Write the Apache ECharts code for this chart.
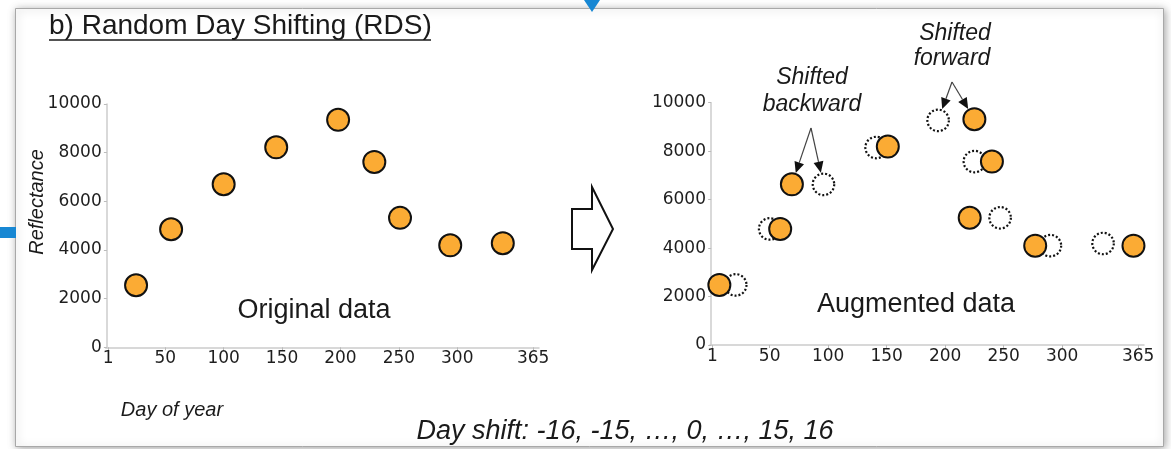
<!DOCTYPE html>
<html>
<head>
<meta charset="utf-8">
<script src="https://cdn.jsdelivr.net/npm/echarts@6/dist/echarts.min.js"></script>
<style>
html,body{margin:0;padding:0;background:#fff;}
#chart{width:1171px;height:449px;}
</style>
</head>
<body>
<div id="chart"></div>
<script>
// ---- data ----
const dayTicks = [1, 50, 100, 150, 200, 250, 300, 365];
const origDays = [25, 55, 100, 145, 198, 229, 251, 294, 339];
const origValues = [2550, 4850, 6700, 8220, 9350, 7620, 5320, 4190, 4280];
const shiftedDays = [7, 59, 69, 151, 225, 240, 221, 277, 361];
const shiftedValues = [2480, 4790, 6630, 8190, 9320, 7570, 5250, 4100, 4100];
const ghostDays = [21, 50, 96, 141, 194, 225, 247, 290, 335];
const ghostValues = [2480, 4790, 6630, 8150, 9270, 7570, 5250, 4100, 4190];

const titleText = 'b) Random Day Shifting (RDS)';
const yName = 'Reflectance';
const xName = 'Day of year';
const leftLabel = 'Original data';
const rightLabel = 'Augmented data';
const shiftText = 'Day shift: -16, -15, \u2026, 0, \u2026, 15, 16';

const ORANGE = '#fbab34';
const SANS = '"Liberation Sans", Arial, sans-serif';
const AXF = 'DejaVu Sans';

function pairs(xs, ys) { return xs.map((x, i) => [x, ys[i]]); }

function xAxisCfg(gi) {
  return {
    type: 'value', gridIndex: gi, min: -1, max: 370,
    axisLine: { show: true, lineStyle: { color: '#cccccc', width: 1.5 } },
    axisTick: { show: true, length: 3, customValues: dayTicks, lineStyle: { color: '#bbbbbb' } },
    axisLabel: { customValues: dayTicks, margin: 3, color: '#1e1e1e', fontFamily: AXF, fontSize: 17,
      formatter: v => String(v) },
    splitLine: { show: false }
  };
}
function yAxisCfg(gi) {
  return {
    type: 'value', gridIndex: gi, min: 0, max: 10000, interval: 2000,
    axisLine: { show: true, lineStyle: { color: '#cccccc', width: 1.5 } },
    axisTick: { show: true, length: 3, lineStyle: { color: '#bbbbbb' } },
    axisLabel: { margin: 4, color: '#1e1e1e', fontFamily: AXF, fontSize: 17,
      formatter: v => String(v) },
    splitLine: { show: false }
  };
}

const chart = echarts.init(document.getElementById('chart'), null, { renderer: 'canvas' });

const option = {
  animation: false,
  backgroundColor: '#ffffff',
  grid: [
    { left: 105.7, top: 104, width: 433.3, height: 243.3, outerBoundsMode: 'none' },
    { left: 710, top: 102.7, width: 434, height: 242.3, outerBoundsMode: 'none' }
  ],
  xAxis: [xAxisCfg(0), xAxisCfg(1)],
  yAxis: [yAxisCfg(0), yAxisCfg(1)],
  series: [
    {
      type: 'scatter', xAxisIndex: 0, yAxisIndex: 0, z: 3,
      data: pairs(origDays, origValues), symbolSize: 22,
      itemStyle: { color: ORANGE, borderColor: '#111', borderWidth: 2, opacity: 1 },
      emphasis: { disabled: true }
    },
    {
      type: 'scatter', xAxisIndex: 1, yAxisIndex: 1, z: 2,
      data: pairs(ghostDays, ghostValues), symbolSize: 21.5,
      itemStyle: { color: 'rgba(0,0,0,0)', borderColor: '#111', borderWidth: 2.2, borderType: [2, 2], opacity: 1 },
      emphasis: { disabled: true }
    },
    {
      type: 'scatter', xAxisIndex: 1, yAxisIndex: 1, z: 3,
      data: pairs(shiftedDays, shiftedValues), symbolSize: 22,
      itemStyle: { color: ORANGE, borderColor: '#111', borderWidth: 2, opacity: 1 },
      emphasis: { disabled: true }
    }
  ]
};
chart.setOption(option);

// ---- annotation graphics ----
function arrowEls(apex, center, id) {
  const dx = center[0] - apex[0], dy = center[1] - apex[1];
  const len = Math.sqrt(dx * dx + dy * dy);
  const ux = dx / len, uy = dy / len;
  const tip = [center[0] - ux * 12, center[1] - uy * 12];
  const L = 11, W = 5;
  const bx = tip[0] - ux * L, by = tip[1] - uy * L;
  return [
    { type: 'line', id: id + 'l', z: 5, shape: { x1: apex[0], y1: apex[1], x2: bx, y2: by },
      style: { stroke: '#444', lineWidth: 1.2 } },
    { type: 'polygon', id: id + 'h', z: 5,
      shape: { points: [tip, [bx - uy * W, by + ux * W], [bx + uy * W, by - ux * W]] },
      style: { fill: '#111' } }
  ];
}
const px = (d, v) => chart.convertToPixel({ xAxisIndex: 1, yAxisIndex: 1 }, [d, v]);
const backApex = [811, 128];
const fwdApex = [952, 82];

const txt = (id, x, y, text, size, extra) => ({
  type: 'text', id: id, x: x, y: y, z: 6,
  style: Object.assign({ text: text, fill: '#1a1a1a', font: size + 'px ' + SANS, align: 'center', verticalAlign: 'middle' }, extra || {})
});

const graphics = [
  // frame
  { type: 'rect', id: 'frame', z: -10, shape: { x: 15.5, y: 8.5, width: 1148, height: 438 },
    style: { fill: '#ffffff', stroke: '#a8a8a8', lineWidth: 1, shadowBlur: 8, shadowColor: 'rgba(0,0,0,0.35)', shadowOffsetX: 1, shadowOffsetY: 1 } },
  { type: 'rect', id: 'bluebar', z: 1, shape: { x: 0, y: 227, width: 16, height: 11 }, style: { fill: '#1787d3' } },
  { type: 'polygon', id: 'bluetri', z: 1, shape: { points: [[584, 0], [600, 0], [592, 12]] }, style: { fill: '#1787d3' } },
  // title
  { type: 'text', id: 'title', x: 49, y: 26.5, z: 6,
    style: { text: titleText, fill: '#1a1a1a', font: '28px ' + SANS, align: 'left', verticalAlign: 'middle' } },
  { type: 'line', id: 'titleU', z: 6, shape: { x1: 49, y1: 40, x2: 431, y2: 40 }, style: { stroke: '#1a1a1a', lineWidth: 1.5 } },
  // axis names
  { type: 'text', id: 'yname', x: 37, y: 202, rotation: Math.PI / 2, z: 6,
    style: { text: yName, fill: '#1a1a1a', font: 'italic 20px ' + SANS, align: 'center', verticalAlign: 'middle' } },
  txt('xname', 172, 410, xName, 20, { font: 'italic 20px ' + SANS }),
  txt('shift', 625, 431, shiftText, 27, { font: 'italic 27px ' + SANS }),
  // panel labels
  txt('orig', 314, 310.5, leftLabel, 27),
  txt('aug', 916, 304.5, rightLabel, 27),
  // annotations
  txt('sb1', 812, 78, 'Shifted', 23, { font: 'italic 23px ' + SANS }),
  txt('sb2', 812, 105, 'backward', 23, { font: 'italic 23px ' + SANS }),
  txt('sf1', 955, 33.5, 'Shifted', 23, { font: 'italic 23px ' + SANS }),
  txt('sf2', 952, 58.5, 'forward', 23, { font: 'italic 23px ' + SANS }),
  // big block arrow
  { type: 'polygon', id: 'bigArrow', z: 4,
    shape: { points: [[572, 209], [592, 209], [592, 187], [613, 229], [592, 270], [592, 249], [572, 249]] },
    style: { fill: '#fff', stroke: '#111', lineWidth: 2 } }
]
  .concat(arrowEls(backApex, px(shiftedDays[2], shiftedValues[2]), 'ab1'))
  .concat(arrowEls(backApex, px(ghostDays[2], ghostValues[2]), 'ab2'))
  .concat(arrowEls(fwdApex, px(ghostDays[4], ghostValues[4]), 'af1'))
  .concat(arrowEls(fwdApex, px(shiftedDays[4], shiftedValues[4]), 'af2'));

chart.setOption({ graphic: graphics });
</script>
</body>
</html>
